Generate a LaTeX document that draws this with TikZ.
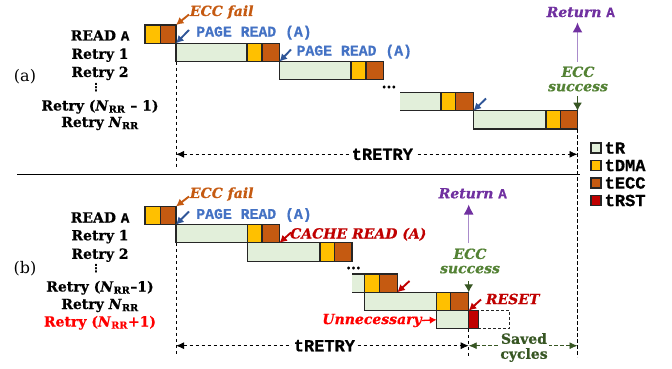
\documentclass[tikz,border=0pt]{standalone}
\usepackage{fontspec}
\setmainfont{DejaVu Serif}[BoldFeatures={FakeBold=0.6},BoldItalicFeatures={FakeBold=0.6}]
\setmonofont{Liberation Mono}[BoldFeatures={FakeBold=0.8}]
\newfontfamily\symf{DejaVu Sans}
\usetikzlibrary{arrows.meta}
\definecolor{cG}{HTML}{E2EFDA}
\definecolor{cY}{HTML}{FFC000}
\definecolor{cB}{HTML}{C55A11}
\definecolor{cR}{HTML}{C00000}
\definecolor{cBlueT}{HTML}{4472C4}
\definecolor{cBlueA}{HTML}{2F5597}
\definecolor{cPur}{HTML}{7030A0}
\definecolor{cPurL}{HTML}{A98BCB}
\definecolor{cGrT}{HTML}{548235}
\definecolor{cGrD}{HTML}{375623}
\definecolor{cRed}{HTML}{FF0000}
\definecolor{cEdge}{HTML}{262626}
\newcommand\seg[5]{\node[#2, minimum width={(#4-#3)*1pt}] (#1) at (#3,#5) {};}
\begin{document}
\begin{tikzpicture}[x=1pt,y=-1pt,
  bar/.style={draw=cEdge, line width=1.1pt, anchor=north west, minimum height=18.3pt, inner sep=0pt, outer sep=0pt},
  gbar/.style={bar, fill=cG}, ybar/.style={bar, fill=cY}, bbar/.style={bar, fill=cB}, rbar/.style={bar, fill=cR},
  openbar/.style={bar, draw=none, fill=cG},
  ghost/.style={bar, dash pattern=on 3pt off 2pt, line width=0.9pt},
  edge/.style={draw=cEdge, line width=1.1pt},
  lbl/.style={font=\bfseries\fontsize{14}{16}\selectfont, inner sep=0pt},
  ann/.style={font=\bfseries\itshape\fontsize{14}{14.3}\selectfont, inner sep=0pt, align=center},
  monolbl/.style={font=\ttfamily\bfseries\fontsize{14.8}{16}\selectfont, inner sep=0pt},
  legtxt/.style={font=\ttfamily\bfseries\fontsize{17}{17}\selectfont, inner sep=0pt, anchor=west},
  legsq/.style={draw=cEdge, line width=1.1pt, minimum size=10pt, inner sep=0pt},
  ptr/.style={-{Latex[length=7.5pt,width=8pt]}, line width=1.9pt},
  ptrg/.style={-{Latex[length=8pt,width=9pt]}, line width=1.3pt},
  retarrow/.style={draw=cPurL, line width=1.3pt, -{Latex[length=10pt,width=10pt,color=cPur]}},
  dimarrow/.style={{Latex[length=8pt,width=7pt]}-{Latex[length=8pt,width=7pt]}, dash pattern=on 3.5pt off 2.5pt, line width=0.8pt},
  vdash/.style={dash pattern=on 3.5pt off 2.5pt, line width=0.8pt},
  dimlbl/.style={font=\ttfamily\bfseries\fontsize{17}{17}\selectfont, fill=white, inner sep=2pt},
  vd/.style={font=\symf\bfseries\fontsize{11}{11}\selectfont, inner sep=0pt}
]
\useasboundingbox (0,0) rectangle (672,369);

% ---------------- (a) ----------------
\node[font=\fontsize{16}{16}\selectfont, inner sep=0pt] (pa) at (25,77) {(a)};
\node[lbl, anchor=base] (la0) at (100,40.5) {READ \texttt{A}};
\node[lbl, anchor=base] (la1) at (100,58.8) {Retry 1};
\node[lbl, anchor=base] (la2) at (100,77) {Retry 2};
\node[vd] (lav) at (96,88) {⋮};
\node[lbl, anchor=base] (la3) at (100,110.5) {Retry (\textit{N}\textsubscript{RR} – 1)};
\node[lbl, anchor=base] (la4) at (100,127) {Retry \textit{N}\textsubscript{RR}};

\seg{a0y}{ybar}{145}{160.5}{25}
\seg{a0b}{bbar}{160.5}{176}{25}
\seg{a1g}{gbar}{176}{247}{43.3}
\seg{a1y}{ybar}{247}{262}{43.3}
\seg{a1b}{bbar}{262}{279.5}{43.3}
\seg{a2g}{gbar}{279.5}{351}{61.6}
\seg{a2y}{ybar}{351}{366}{61.6}
\seg{a2b}{bbar}{366}{383.5}{61.6}
\seg{a3g}{openbar}{400}{441}{92.3}
\draw[edge] (a3g.north west) -- (a3g.north east) (a3g.south west) -- (a3g.south east);
\seg{a3y}{ybar}{441}{455.5}{92.3}
\seg{a3b}{bbar}{455.5}{473.5}{92.3}
\seg{a4g}{gbar}{473.5}{546}{110.7}
\seg{a4y}{ybar}{546}{560.5}{110.7}
\seg{a4b}{bbar}{560.5}{577.5}{110.7}

\node[lbl, font=\bfseries\fontsize{14}{14}\selectfont] (dotsa) at (389,87) {...};

\node[ann, text=cB] (efa) at (221.7,12) {ECC fail};
\coordinate (efa-t) at (189,14.5);
\draw[ptr, cB] (efa-t) -- (a0b.north east);
\node[monolbl, text=cBlueT] (pra1) at (254,32.7) {PAGE READ (A)};
\coordinate (pra1-t) at (189,30);
\draw[ptr, cBlueA] (pra1-t) -- (a1g.north west);
\node[monolbl, text=cBlueT] (pra2) at (354.3,51.7) {PAGE READ (A)};
\coordinate (pra2-t) at (291,49.5);
\draw[ptr, cBlueA] (pra2-t) -- (a2g.north west);
\coordinate (pra3-t) at (486,98.5);
\draw[ptr, cBlueA] (pra3-t) -- (a4g.north west);

\node[ann, text=cGrT] (esa) at (578,79) {ECC\\success};
\coordinate (esa-t) at (577.5,96);
\draw[ptrg, cGrD] (esa-t) -- (a4b.north east);
\node[ann, text=cPur] (reta) at (580.7,12) {Return \texttt{\upshape A}};
\coordinate (reta-s) at (577.5,62);
\coordinate (reta-e) at (577.5,22.5);
\draw[retarrow] (reta-s) -- (reta-e);

\coordinate (avl-end) at (176,166.7);
\draw[vdash] (a1g.south west) -- (avl-end);
\coordinate (rvl-end) at (577.5,357);
\draw[vdash] (a4b.south east) -- (rvl-end);
\coordinate (ta-l) at (176,154.3);
\coordinate (ta-r) at (577.5,154.3);
\draw[dimarrow] (ta-l) -- node[dimlbl, pos=0.514] (tra) {tRETRY} (ta-r);

% separator
\coordinate (sep-l) at (17,174.3);
\coordinate (sep-r) at (580,174.3);
\draw[line width=1.3pt] (sep-l) -- (sep-r);

% legend
\node[legsq, fill=cG] (lg1) at (596,148) {};
\node[legtxt] (lt1) at (604.5,148) {tR};
\node[legsq, fill=cY] (lg2) at (596,165.5) {};
\node[legtxt] (lt2) at (604.5,165.5) {tDMA};
\node[legsq, fill=cB] (lg3) at (596,183) {};
\node[legtxt] (lt3) at (604.5,183) {tECC};
\node[legsq, fill=cR] (lg4) at (596,200.5) {};
\node[legtxt] (lt4) at (604.5,200.5) {tRST};

% ---------------- (b) ----------------
\node[font=\fontsize{16}{16}\selectfont, inner sep=0pt] (pb) at (25,269) {(b)};
\node[lbl, anchor=base] (lb0) at (100,222.5) {READ \texttt{A}};
\node[lbl, anchor=base] (lb1) at (100,240.3) {Retry 1};
\node[lbl, anchor=base] (lb2) at (100,258.8) {Retry 2};
\node[vd] (lbv) at (96,269) {⋮};
\node[lbl, anchor=base] (lb3) at (100,291.5) {Retry (\textit{N}\textsubscript{RR}–1)};
\node[lbl, anchor=base] (lb4) at (100,309) {Retry \textit{N}\textsubscript{RR}};
\node[lbl, anchor=base, text=cRed] (lb5) at (100,326.5) {Retry (\textit{N}\textsubscript{RR}+1)};

\seg{b0y}{ybar}{145}{160.5}{206.5}
\seg{b0b}{bbar}{160.5}{176}{206.5}
\seg{b2g}{gbar}{247.3}{320}{242.8}
\seg{b2y}{ybar}{320}{334.3}{242.8}
\seg{b2b}{bbar}{334.3}{352}{242.8}
\seg{b1g}{gbar}{176}{247.3}{224.6}
\seg{b1y}{ybar}{247.3}{262}{224.6}
\seg{b1b}{bbar}{262}{279.5}{224.6}
\seg{b3g}{openbar}{352}{364.3}{274}
\draw[edge] (b3g.north west) -- (b3g.north east) (b3g.south west) -- (b3g.south east);
\seg{b3y}{ybar}{364.3}{379.3}{274}
\seg{b3b}{bbar}{379.3}{397.3}{274}
\seg{b4g}{gbar}{364.3}{436.7}{292.3}
\seg{b4y}{ybar}{436.7}{450.7}{292.3}
\seg{b4b}{bbar}{450.7}{468.7}{292.3}
\seg{b5g}{gbar}{436.7}{468.7}{310.6}
\seg{b5r}{rbar}{468.7}{478.3}{310.6}
\seg{b5x}{ghost}{478.3}{509.3}{310.6}

\node[lbl, font=\bfseries\fontsize{14}{14}\selectfont] (dotsb) at (353.5,268) {...};

\node[ann, text=cB] (efb) at (221.7,194) {ECC fail};
\coordinate (efb-t) at (189,196.5);
\draw[ptr, cB] (efb-t) -- (b0b.north east);
\node[monolbl, text=cBlueT] (prb) at (254,215) {PAGE READ (A)};
\coordinate (prb-t) at (189,211.5);
\draw[ptr, cBlueA] (prb-t) -- (b1g.north west);
\node[ann, text=cR] (crb) at (358.3,234.3) {CACHE READ (A)};
\coordinate (crb-t) at (291,232.5);
\draw[ptr, cR] (crb-t) -- (b1b.south east);
\coordinate (crb2-t) at (409.5,281);
\draw[ptr, cR] (crb2-t) -- (b3b.south east);

\node[ann, text=cGrT] (esb) at (470,261) {ECC\\success};
\coordinate (esb-t) at (468.7,281);
\draw[ptrg, cGrD] (esb-t) -- (b4b.north east);
\node[ann, text=cPur] (retb) at (472.7,193.3) {Return \texttt{\upshape A}};
\coordinate (retb-s) at (468.7,243);
\coordinate (retb-e) at (468.7,204.5);
\draw[retarrow] (retb-s) -- (retb-e);

\node[ann, text=cR] (rst) at (512.7,299) {RESET};
\coordinate (rst-t) at (481,299.5);
\draw[ptr, cR] (rst-t) -- (b5r.north west);
\node[ann, text=cRed] (unn) at (372,320.5) {Unnecessary};
\draw[-{Latex[length=7pt,width=7.5pt]}, line width=1.3pt, cRed] (unn.east) -- (b5g.west);

\coordinate (bvl-end) at (176,355);
\draw[vdash] (b1g.south west) -- (bvl-end);
\coordinate (bvr-end) at (468.7,357);
\draw[vdash] (b5g.south east) -- (bvr-end);
\coordinate (tb-l) at (176,345.7);
\coordinate (tb-r) at (468.7,345.7);
\draw[dimarrow] (tb-l) -- node[dimlbl, pos=0.507] (trb) {tRETRY} (tb-r);
\coordinate (sv-r) at (577.5,345.7);
\draw[dimarrow, cGrD] (tb-r) -- (sv-r);
\node[lbl, text=cGrD, fill=white, align=center, font=\bfseries\fontsize{14}{15}\selectfont, inner sep=1pt] (saved) at (524,347.5) {Saved\\cycles};
\end{tikzpicture}
\end{document}
